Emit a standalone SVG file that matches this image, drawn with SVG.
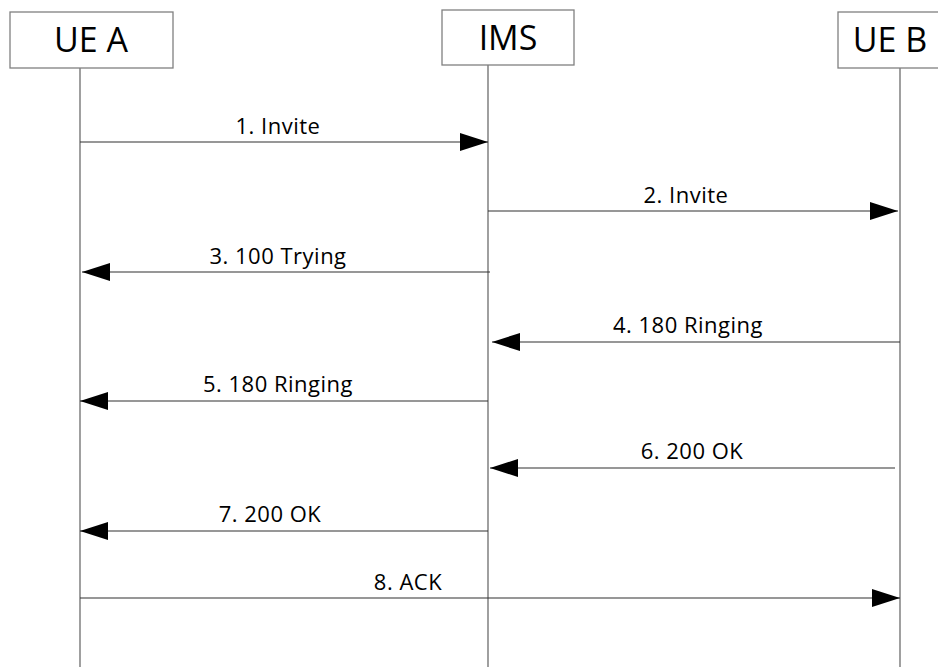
<svg xmlns="http://www.w3.org/2000/svg" width="938" height="667" viewBox="0 0 938 667">
<defs>
<style>
.box{fill:#fff;stroke:#808080;stroke-width:1.3}
.life{stroke:#606060;stroke-width:1.2}
.msg{stroke:#303030;stroke-width:1.2;fill:none}
.t{font-family:"Open Sans","Noto Sans",sans-serif;font-size:34px;fill:#000;text-anchor:middle}
.l{font-family:"Open Sans","Noto Sans",sans-serif;font-size:22px;letter-spacing:0.5px;fill:#000;text-anchor:middle}
</style>
<marker id="ah" markerWidth="28" markerHeight="18" refX="28" refY="9" orient="auto" markerUnits="userSpaceOnUse">
<path d="M0,0 L28,9 L0,18 Z" fill="#000"/>
</marker>
</defs>
<g id="lifelines">
<line class="life" x1="80" y1="68" x2="80" y2="667"/>
<line class="life" x1="488" y1="65" x2="488" y2="667"/>
<line class="life" x1="900" y1="68" x2="900" y2="667"/>
</g>
<g id="ueA"><rect class="box" x="10" y="12" width="163" height="56"/><text class="t" x="91" y="52">UE A</text></g>
<g id="ims"><rect class="box" x="442" y="10" width="132" height="55"/><text class="t" x="508" y="50">IMS</text></g>
<g id="ueB"><rect class="box" x="838" y="12" width="110" height="56"/><text class="t" x="890" y="52">UE B</text></g>
<g id="connectors">
<line class="msg" x1="80" y1="142" x2="488" y2="142" marker-end="url(#ah)"/>
<text class="l" x="278" y="134">1. Invite</text>
<line class="msg" x1="488" y1="211" x2="898" y2="211" marker-end="url(#ah)"/>
<text class="l" x="686" y="203">2. Invite</text>
<line class="msg" x1="490" y1="272" x2="82" y2="272" marker-end="url(#ah)"/>
<text class="l" x="278" y="264">3. 100 Trying</text>
<line class="msg" x1="900" y1="342" x2="492" y2="342" marker-end="url(#ah)"/>
<text class="l" x="688" y="333">4. 180 Ringing</text>
<line class="msg" x1="488" y1="401" x2="80" y2="401" marker-end="url(#ah)"/>
<text class="l" x="278" y="392">5. 180 Ringing</text>
<line class="msg" x1="895" y1="468" x2="490" y2="468" marker-end="url(#ah)"/>
<text class="l" x="692" y="459">6. 200 OK</text>
<line class="msg" x1="488" y1="531" x2="80" y2="531" marker-end="url(#ah)"/>
<text class="l" x="270" y="522">7. 200 OK</text>
<line class="msg" x1="80" y1="598" x2="900" y2="598" marker-end="url(#ah)"/>
<text class="l" x="408" y="590">8. ACK</text>
</g>
</svg>
